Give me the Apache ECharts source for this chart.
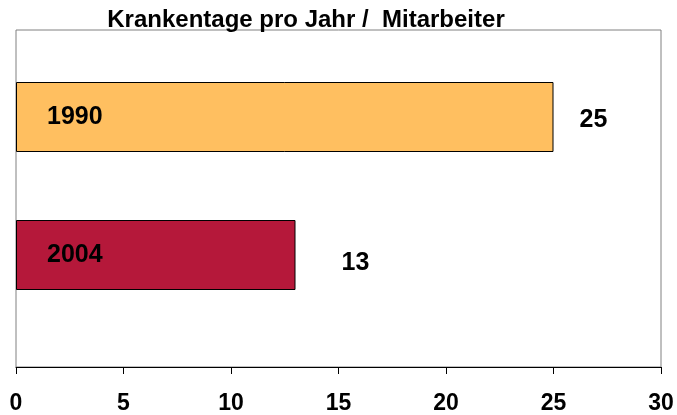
<!DOCTYPE html>
<html><head><meta charset="utf-8">
<script src="https://cdn.jsdelivr.net/npm/echarts@6/dist/echarts.min.js"></script>
<style>html,body{margin:0;padding:0;background:#fff}#c{width:677px;height:415px}</style>
</head><body><div id="c"></div>
<script>
var titleText = 'Krankentage pro Jahr /  Mitarbeiter';
var categories = ['1990', '2004'];
var values = [25, 13];
var barColors = ['#FFBF60', '#B5183A'];
var xTicks = [0, 5, 10, 15, 20, 25, 30];

var chart = echarts.init(document.getElementById('c'));
var font = 'Liberation Sans, Arial, sans-serif';
var valueOffsets = [[26, 3], [46, 8]];
chart.setOption({
  animation: false,
  title: {text: titleText, left: 301, textAlign: 'center', top: 3,
    textStyle: {fontFamily: font, fontWeight: 'bold', fontSize: 24, color: '#000'}},
  grid: [
    {left: 16, right: 16, top: 30, bottom: 48, show: true, borderColor: '#808080', borderWidth: 1, backgroundColor: '#fff'},
    {left: 16, right: 16, top: 48, bottom: 91}
  ],
  xAxis: [
    {gridIndex: 0, type: 'value', min: xTicks[0], max: xTicks[xTicks.length-1], interval: 5,
      axisLine: {show: true, lineStyle: {color: '#000', width: 1}},
      axisTick: {show: true, length: 7, lineStyle: {color: '#000'}},
      splitLine: {show: false},
      axisLabel: {fontFamily: font, fontWeight: 'bold', fontSize: 23, color: '#000', margin: 25}},
    {gridIndex: 1, type: 'value', min: xTicks[0], max: xTicks[xTicks.length-1], show: false}
  ],
  yAxis: [
    {gridIndex: 0, type: 'category', data: ['a'], show: false},
    {gridIndex: 1, type: 'category', data: categories, inverse: true, show: false}
  ],
  series: [{
    type: 'bar', xAxisIndex: 1, yAxisIndex: 1, barWidth: 70,
    data: values.map(function (v, i) {
      return {value: v, itemStyle: {color: barColors[i], borderColor: '#000', borderWidth: 1}};
    }),
    label: {show: true, position: 'insideLeft', distance: 31,
      formatter: function (p) { return categories[p.dataIndex]; },
      fontFamily: font, fontWeight: 'bold', fontSize: 25, color: '#000'}
  }, {
    type: 'bar', xAxisIndex: 1, yAxisIndex: 1, barWidth: 70, barGap: '-100%',
    data: values.map(function (v, i) {
      return {value: v, itemStyle: {color: 'transparent'},
        label: {offset: valueOffsets[i]}};
    }),
    label: {show: true, position: 'right', distance: 0,
      fontFamily: font, fontWeight: 'bold', fontSize: 25, color: '#000'}
  }]
});
</script></body></html>
